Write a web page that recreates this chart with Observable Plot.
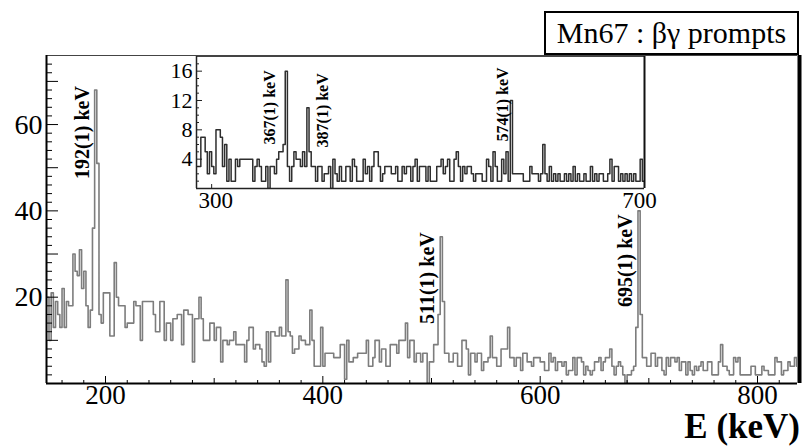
<!DOCTYPE html>
<html><head><meta charset="utf-8">
<script src="https://cdn.jsdelivr.net/npm/d3@7"></script>
<script src="https://cdn.jsdelivr.net/npm/@observablehq/plot@0.6"></script>
<style>
body{margin:0;background:#fff;}
#wrap{position:relative;width:803px;height:447px;overflow:hidden;font-family:"Liberation Serif","Times New Roman",serif;background:#fff;}
#wrap svg{position:absolute;}
#title{position:absolute;left:544px;top:11px;width:251px;height:40px;border:2px solid #000;background:#fff;font-size:30px;line-height:40px;text-align:center;white-space:nowrap;color:#000;}
#xlabel{position:absolute;right:3px;top:416px;font-weight:bold;font-size:35px;line-height:22px;height:22px;white-space:nowrap;color:#000;}
</style></head>
<body><div id="wrap"><div id="title">Mn67 : βγ prompts</div><div id="xlabel">E (keV)</div></div>
<script>
// ---- data: main spectrum (2 keV bins starting at 146 keV) ----
const mainStart = 146;
const binWidth = 2;
const mainCounts = [
 20,10,21,13,19,16,13,22,13,19,
 18,18,30,26,25,31,22,26,18,13,
 17,36,68,51,16,14,21,21,21,11,
 11,28,20,18,18,18,13,14,14,14,
 19,18,18,10,19,19,19,19,19,16,
 12,12,19,19,10,14,14,10,15,15,
 16,16,9,17,17,16,16,5,15,15,
 20,15,10,10,10,14,14,10,13,13,
 5,10,10,9,10,10,12,9,9,9,
 9,5,10,13,13,8,9,9,8,5,
 4,12,5,12,12,11,11,13,11,11,
 24,12,11,7,8,8,11,10,10,9,
 9,17,10,4,4,4,13,4,7,7,
 7,7,6,6,6,9,9,1,10,5,
 5,6,6,7,7,7,7,10,4,4,
 6,10,10,5,8,8,4,4,9,9,
 9,7,10,10,10,14,6,10,10,5,
 7,7,5,7,7,0,5,5,9,9,
 16,34,19,7,7,5,5,7,7,4,
 4,10,10,8,2,7,7,5,7,7,
 3,5,5,6,11,6,6,4,4,8,
 8,8,13,6,6,4,6,6,3,7,
 7,5,5,4,6,6,6,5,5,3,
 3,7,5,6,3,5,5,4,5,2,
 3,3,6,2,6,6,5,2,4,3,
 2,3,5,5,6,3,5,6,6,8,
 4,2,4,5,4,2,0,2,2,3,
 4,13,40,16,6,6,4,4,7,7,
 4,6,6,3,2,6,4,6,6,5,
 6,3,5,5,2,5,3,2,4,3,
 4,5,3,3,5,5,2,2,2,5,
 9,4,4,3,2,2,6,5,6,2,
 2,2,2,2,4,4,2,2,2,4,
 3,3,2,2,2,6,5,5,2,3,
 3,5,4,4,6,4];

// ---- data: inset spectrum (2 keV bins starting at 286 keV) ----
const insetStart = 286;
const insetCounts = [
 3,3,7,7,5,2,5,3,2,8,
 8,7,3,6,1,4,1,1,4,3,
 4,4,4,4,4,4,1,3,4,3,
 1,1,3,0,3,3,2,4,5,5,
 6,16,3,1,3,5,4,4,3,5,
 3,11,5,3,3,1,3,3,1,2,
 2,3,0,4,2,1,3,1,1,3,
 3,1,4,3,1,1,1,4,2,3,
 1,3,5,5,3,1,2,3,3,3,
 2,2,3,1,1,3,2,3,3,1,
 3,4,1,3,
 3,3,1,3,1,1,1,3,3,4,
 2,3,4,1,1,4,5,3,1,3,
 2,3,3,2,1,2,2,2,1,1,
 4,3,1,5,3,1,1,4,2,5,
 1,12,2,2,2,2,2,1,1,1,
 3,2,2,2,1,2,6,2,1,3,
 1,2,1,2,1,1,2,1,2,1,
 3,1,2,1,1,2,1,1,3,1,
 2,1,2,2,1,1,2,4,1,3,
 3,1,2,1,2,1,2,1,2,1,
 1,4,1];

// ---- peak labels ----
const mainLabelText = ["192(1) keV", "511(1) keV", "695(1) keV"];
const mainLabelE = [178.8, 496.3, 678.5];
const mainLabelCount = [47.4, 13.8, 17.7];
const insetLabelText = ["367(1) keV", "387(1) keV", "574(1) keV"];
const insetLabelE = [353.6, 402.6, 569.2];
const insetLabelCount = [6.0, 5.6, 6.4];

// ---- tick labels ----
const mainXTickLabels = [200, 400, 600, 800];
const mainYTickLabels = [20, 40, 60];
const insetXTickLabels = [300, 700];
const insetYTickLabels = [4, 8, 12, 16];

// ---- scales / layout ----
const mainXDomain = [145.7, 836.8];
const mainYDomain = [0, 76];
const insetXDomain = [286, 700];
const insetYDomain = [0, 18];

const W = 803, H = 447;
const mL = 46, mR = 6, mT = 55, mB = 64;
const frameW = W - mL - mR, frameH = H - mT - mB;

function stepData(start, counts) {
  const d = counts.map((v, i) => ({e: start + i * binWidth, v}));
  d.push({e: start + counts.length * binWidth, v: counts[counts.length - 1]});
  return d;
}
const mainData = stepData(mainStart, mainCounts);
const insetData = stepData(insetStart, insetCounts);
const mainLabels = mainLabelText.map((t, i) => ({t, e: mainLabelE[i], c: mainLabelCount[i]}));
const insetLabels = insetLabelText.map((t, i) => ({t, e: insetLabelE[i], c: insetLabelCount[i]}));

const mainXMajor = mainXTickLabels;
const mainXMid = [300, 500, 700];
const mainXMinor = d3.range(160, 837, 20).filter(v => v % 100 !== 0);
const mainYMajor = d3.range(10, 76, 10);
const mainYMinor = d3.range(2, 76, 2).filter(v => v % 10 !== 0);

const serif = "'Liberation Serif', 'Times New Roman', serif";

const main = Plot.plot({
  width: W, height: H,
  marginLeft: mL, marginRight: mR, marginTop: mT, marginBottom: mB,
  x: {domain: mainXDomain},
  y: {domain: mainYDomain},
  style: {fontFamily: serif, background: "white", color: "black"},
  marks: [
    Plot.line(mainData, {x: "e", y: "v", curve: "step-after", stroke: "#7d7d7d", strokeWidth: 1.6, clip: true}),
    Plot.tickX(mainXMinor, {x: d => d, insetTop: frameH - 3, stroke: "black"}),
    Plot.tickX(mainXMid, {x: d => d, insetTop: frameH - 5, stroke: "black"}),
    Plot.tickX(mainXMajor, {x: d => d, insetTop: frameH - 7, stroke: "black"}),
    Plot.tickY(mainYMinor, {y: d => d, insetRight: frameW - 6, stroke: "black"}),
    Plot.tickY(mainYMajor, {y: d => d, insetRight: frameW - 12, stroke: "black"}),
    Plot.ruleY([mainYDomain[1]], {stroke: "#444", strokeWidth: 1.2}),
    Plot.ruleY([mainYDomain[0]], {stroke: "black", strokeWidth: 2}),
    Plot.ruleX([mainXDomain[0]], {stroke: "black", strokeWidth: 2}),
    Plot.ruleX([mainXDomain[1]], {stroke: "black", strokeWidth: 4, dx: 2}),
    Plot.axisX({ticks: mainXTickLabels, tickSize: 0, tickPadding: 1, fontSize: 27, label: null, tickFormat: d => String(d)}),
    Plot.axisY({ticks: mainYTickLabels, tickSize: 0, tickPadding: 4, fontSize: 28, label: null, tickFormat: d => String(d)}),
    Plot.text(mainLabels, {x: "e", y: "c", text: "t", rotate: -90, textAnchor: "start", fontSize: 20, fontWeight: "bold", fill: "black"})
  ]
});
main.style.left = "0px";
main.style.top = "0px";

// inset
const iL = 196, iT = 56, iW = 448, iH = 132;
const imL = 40, imR = 14, imT = 4, imB = 30;
const insetYMajor = insetYTickLabels;
const insetYMinor = d3.range(1, 18, 1).filter(v => v % 4 !== 0);

const inset = Plot.plot({
  width: imL + iW + imR, height: imT + iH + imB,
  marginLeft: imL, marginRight: imR, marginTop: imT, marginBottom: imB,
  x: {domain: insetXDomain},
  y: {domain: insetYDomain},
  style: {fontFamily: serif, background: "transparent", color: "black", overflow: "visible"},
  marks: [
    Plot.frame({fill: "white", stroke: "none"}),
    Plot.line(insetData, {x: "e", y: "v", curve: "step-after", stroke: "#2e2e2e", strokeWidth: 1.5, clip: true}),
    Plot.tickY(insetYMinor, {y: d => d, insetRight: iW - 3, stroke: "#222"}),
    Plot.tickY(insetYMajor, {y: d => d, insetRight: iW - 6, stroke: "#222"}),
    Plot.tickX([300], {x: d => d, insetTop: iH - 4, stroke: "#222"}),
    Plot.ruleY([insetYDomain[1]], {stroke: "#444", strokeWidth: 1}),
    Plot.ruleY([insetYDomain[0]], {stroke: "#222", strokeWidth: 1.5}),
    Plot.ruleX([insetXDomain[0]], {stroke: "#222", strokeWidth: 1.5}),
    Plot.ruleX([insetXDomain[1]], {stroke: "#111", strokeWidth: 2}),
    Plot.axisX({ticks: [insetXTickLabels[0]], tickSize: 0, tickPadding: 3, fontSize: 23, dx: 4, label: null, tickFormat: d => String(d)}),
    Plot.axisX({ticks: [insetXTickLabels[1]], tickSize: 0, tickPadding: 3, fontSize: 23, dx: -5, label: null, tickFormat: d => String(d)}),
    Plot.axisY({ticks: insetYTickLabels, tickSize: 0, tickPadding: 4, fontSize: 22, label: null, tickFormat: d => String(d)}),
    Plot.text(insetLabels, {x: "e", y: "c", text: "t", rotate: -90, textAnchor: "start", fontSize: 16, fontWeight: "bold", fill: "black"})
  ]
});
inset.style.left = (iL - imL) + "px";
inset.style.top = (iT - imT) + "px";

const wrap = document.getElementById("wrap");
wrap.insertBefore(main, wrap.firstChild);
wrap.insertBefore(inset, document.getElementById("title"));
</script>
</body></html>
